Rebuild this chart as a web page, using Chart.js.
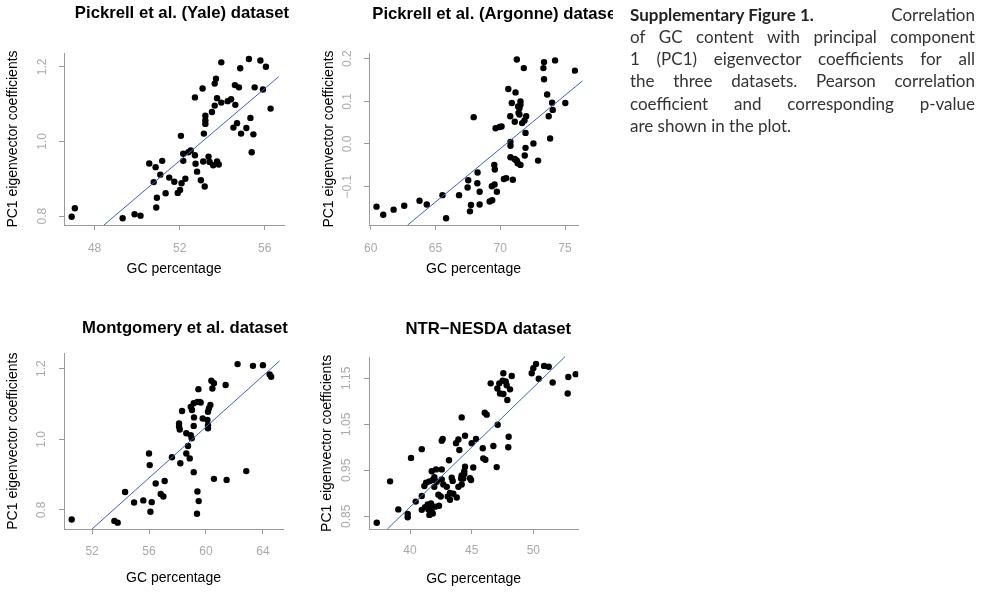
<!DOCTYPE html>
<html>
<head>
<meta charset="utf-8">
<script src="https://cdn.jsdelivr.net/npm/chart.js@4.4.0/dist/chart.umd.min.js"></script>
<style>
  body { margin: 0; background: #fff; width: 981px; height: 592px; position: relative; overflow: hidden; }
  canvas { position: absolute; }
  #caption { position: absolute; left: 613px; top: 0; width: 362px; height: 145px; background: #fff;
             padding: 3.9px 0 0 17px; box-sizing: border-box; font-family: Lato, sans-serif; font-size: 17px; color: #333; }
  #caption .ln { display: flex; justify-content: space-between; white-space: nowrap; line-height: 22.2px; height: 22.2px; }
  #caption .last { display: block; }
</style>
</head>
<body>
<canvas id="yale"></canvas>
<canvas id="argonne"></canvas>
<canvas id="montgomery"></canvas>
<canvas id="ntr"></canvas>
<div id="caption"></div>
<script>
// Pickrell et al. (Yale) : [GC %, PC1 coefficient]
const yalePoints = [[46.92,0.798],[47.07,0.821],[49.32,0.794],[49.88,0.805],[50.16,0.801],[50.57,0.941],[50.87,0.931],[50.78,0.891],[50.93,0.849],[50.90,0.823],[51.09,0.911],[51.18,0.948],[51.34,0.861],[51.51,0.903],[51.75,0.892],[51.91,0.862],[52.02,0.870],[52.09,0.888],[52.06,1.015],[52.17,0.967],[52.17,0.948],[52.27,0.900],[52.41,0.971],[52.52,0.976],[52.72,0.963],[52.75,0.940],[52.82,0.919],[52.72,1.118],[53.00,0.896],[53.08,1.142],[53.11,0.946],[53.18,0.879],[53.14,1.021],[53.21,1.069],[53.21,1.056],[53.21,1.047],[53.36,0.959],[53.41,0.945],[53.52,1.079],[53.58,0.936],[53.65,1.096],[53.65,1.155],[53.71,1.168],[53.76,1.116],[53.76,0.946],[53.84,0.938],[53.96,1.212],[53.96,1.104],[54.26,1.108],[54.42,1.113],[54.60,1.151],[54.62,1.098],[54.53,1.037],[54.70,1.049],[54.79,1.145],[54.85,1.196],[54.89,1.021],[55.14,1.036],[55.26,1.221],[55.33,1.063],[55.39,0.971],[55.47,1.019],[55.53,1.145],[55.80,1.217],[55.92,1.139],[56.06,1.200],[56.28,1.088]];
const yaleFit = [[48.44,0.776],[56.67,1.174]];
const yaleXTicks = [48, 52, 56];
const yaleXLabels = ['48', '52', '56'];
const yaleYTicks = [0.8, 1.0, 1.2];
const yaleYLabels = ['0.8', '1.0', '1.2'];
const yaleXRange = [46.56, 56.91];
const yaleYRange = [0.776, 1.237];

// Pickrell et al. (Argonne)
const argonnePoints = [[60.45,-0.147],[60.97,-0.166],[61.77,-0.154],[62.59,-0.145],[63.77,-0.133],[64.33,-0.142],[65.54,-0.120],[65.82,-0.174],[66.82,-0.120],[67.53,-0.085],[67.48,-0.102],[67.74,-0.143],[67.66,-0.158],[67.95,0.063],[68.25,-0.067],[68.23,-0.092],[68.41,-0.112],[68.41,-0.142],[69.18,-0.135],[69.38,-0.132],[69.35,-0.099],[69.56,-0.095],[69.74,-0.112],[69.54,-0.049],[69.58,-0.060],[69.64,0.037],[69.95,0.040],[70.10,0.041],[70.28,-0.082],[70.46,-0.080],[70.97,-0.084],[70.79,0.005],[70.79,-0.004],[70.79,-0.031],[71.10,-0.035],[71.28,-0.039],[70.62,0.129],[71.18,0.121],[70.89,0.096],[70.77,0.065],[71.12,0.052],[71.28,0.198],[71.38,0.088],[71.41,0.073],[71.82,0.178],[71.56,0.100],[71.56,0.092],[71.48,0.084],[71.48,0.069],[72.00,0.065],[71.69,0.049],[71.87,0.055],[71.95,0.026],[72.56,0.001],[71.95,-0.009],[71.89,-0.027],[71.18,-0.037],[71.35,-0.045],[71.56,-0.049],[72.92,-0.039],[73.38,0.192],[73.33,0.178],[74.23,0.196],[73.38,0.152],[73.62,0.116],[75.77,0.172],[74.00,0.097],[74.05,0.080],[73.74,0.065],[75.02,0.096],[73.85,0.013]];
const argonneFit = [[62.85,-0.190],[76.35,0.148]];
const argonneXTicks = [60, 65, 70, 75];
const argonneXLabels = ['60', '65', '70', '75'];
const argonneYTicks = [-0.1, 0.0, 0.1, 0.2];
const argonneYLabels = ['\u22120.1', '0.0', '0.1', '0.2'];
const argonneXRange = [59.87, 76.0];
const argonneYRange = [-0.190, 0.2134];

// Montgomery et al.
const montgomeryPoints = [[50.57,0.773],[53.57,0.769],[53.80,0.764],[54.32,0.851],[54.95,0.821],[55.60,0.827],[56.10,0.795],[56.19,0.822],[56.00,0.960],[56.05,0.927],[56.47,0.875],[56.82,0.845],[57.01,0.838],[57.10,0.882],[57.61,0.949],[58.20,0.932],[58.32,1.080],[58.11,1.045],[58.11,1.036],[58.16,1.028],[58.62,1.017],[58.62,0.960],[58.86,0.946],[58.74,0.981],[58.93,1.012],[59.00,1.003],[59.02,1.083],[59.16,1.062],[59.14,1.038],[59.14,0.907],[58.93,1.092],[59.14,1.102],[59.47,1.142],[59.40,1.106],[59.56,1.106],[59.63,1.104],[59.40,0.852],[59.49,0.825],[59.37,0.789],[59.77,1.059],[60.10,1.055],[60.14,1.040],[60.14,1.031],[60.14,1.078],[60.21,1.088],[60.31,1.097],[60.38,1.166],[60.56,1.159],[60.45,1.144],[61.38,1.154],[60.56,0.888],[61.45,0.885],[62.22,1.213],[63.30,1.208],[64.00,1.210],[64.47,1.184],[64.58,1.177],[62.83,0.910]];
const montgomeryFit = [[52.00,0.746],[65.17,1.222]];
const montgomeryXTicks = [52, 56, 60, 64];
const montgomeryXLabels = ['52', '56', '60', '64'];
const montgomeryYTicks = [0.8, 1.0, 1.2];
const montgomeryYLabels = ['0.8', '1.0', '1.2'];
const montgomeryXRange = [50.03, 65.41];
const montgomeryYRange = [0.746, 1.2436];

// NTR-NESDA
const ntrPoints = [[37.30,0.836],[38.38,0.926],[39.05,0.865],[39.81,0.855],[39.81,0.848],[40.08,0.977],[40.95,0.996],[40.46,0.882],[40.95,0.894],[41.16,0.916],[41.30,0.923],[41.57,0.926],[41.84,0.929],[40.95,0.864],[41.22,0.870],[41.44,0.876],[41.70,0.878],[41.62,0.870],[41.76,0.860],[41.84,0.856],[41.57,0.853],[41.49,0.865],[42.03,0.871],[42.35,0.873],[42.49,0.893],[42.30,0.897],[41.76,0.948],[42.11,0.952],[42.57,0.952],[41.97,0.935],[42.17,0.925],[41.97,0.914],[42.57,1.014],[42.65,1.018],[43.16,0.972],[42.57,0.930],[42.70,0.919],[42.98,0.914],[43.38,0.934],[43.46,0.927],[43.24,0.901],[43.92,1.017],[43.73,1.009],[44.00,0.994],[44.19,1.065],[44.46,1.025],[45.00,1.009],[45.35,1.018],[44.46,0.958],[44.40,0.948],[44.40,0.942],[44.19,0.939],[44.32,0.932],[44.95,0.929],[43.92,0.914],[44.19,0.919],[44.14,0.932],[43.24,0.886],[43.06,0.893],[43.79,0.891],[43.51,0.899],[45.13,0.956],[44.87,0.933],[45.94,0.976],[46.11,0.973],[45.90,0.998],[46.76,1.003],[47.03,0.957],[47.97,1.000],[48.00,1.023],[47.11,1.049],[46.06,1.075],[46.22,1.071],[46.54,1.139],[47.57,1.161],[48.25,1.155],[47.08,1.128],[47.30,1.117],[47.57,1.116],[47.24,1.139],[47.51,1.145],[47.76,1.143],[47.84,1.135],[48.11,1.126],[47.89,1.103],[49.87,1.161],[50.00,1.172],[50.22,1.181],[50.87,1.177],[51.25,1.175],[50.44,1.149],[51.57,1.141],[52.84,1.153],[53.44,1.159],[52.79,1.117]];
const ntrFit = [[38.16,0.8224],[52.57,1.197]];
const ntrXTicks = [40, 45, 50];
const ntrXLabels = ['40', '45', '50'];
const ntrYTicks = [0.85, 0.95, 1.05, 1.15];
const ntrYLabels = ['0.85', '0.95', '1.05', '1.15'];
const ntrXRange = [36.67, 53.65];
const ntrYRange = [0.8224, 1.1948];

const captionLines = [
    'of GC content with principal component',
    '1 (PC1) eigenvector coefficients for all',
    'the three datasets. Pearson correlation',
    'coefficient and corresponding p-value'
];

const FONT = "'Liberation Sans', Arial, Helvetica, sans-serif";
const TICK_COLOR = '#a9a9a9';
const AXIS_COLOR = '#9a9a9a';

// measure a tick label so the rotated y labels sit where R puts them
const measureCtx = document.createElement('canvas').getContext('2d');
function textWidth(s, size) {
    measureCtx.font = size + 'px ' + FONT;
    return measureCtx.measureText(s).width;
}

// R puts main titles a little right of the plot centre, so draw them at a set x
const panelTitle = {
    id: 'panelTitle',
    afterDraw(chart, args, opts) {
        const ctx = chart.ctx;
        ctx.save();
        ctx.font = 'bold 16.7px ' + FONT;
        ctx.fillStyle = '#000';
        ctx.textAlign = 'center';
        ctx.textBaseline = 'middle';
        ctx.fillText(opts.text, opts.x, opts.y);
        ctx.restore();
    }
};

function makePanel(id, box, title, points, fit, xTicks, xLabels, yTicks, yLabels, xRange, yRange) {
    const canvas = document.getElementById(id);
    canvas.width = box.w;
    canvas.height = box.h;
    canvas.style.left = box.left + 'px';
    canvas.style.top = box.top + 'px';

    const widest = Math.max(...yLabels.map(l => textWidth(l, 12)));

    new Chart(canvas, {
        type: 'scatter',
        data: {
            datasets: [
                {
                    data: points.map(p => ({ x: p[0], y: p[1] })),
                    pointRadius: 3.2,
                    pointBackgroundColor: '#000',
                    pointBorderWidth: 0,
                    order: 1
                },
                {
                    data: fit.map(p => ({ x: p[0], y: p[1] })),
                    showLine: true,
                    borderColor: '#3f5fbe',
                    borderWidth: 1,
                    pointRadius: 0,
                    clip: false,
                    order: 0
                }
            ]
        },
        plugins: [panelTitle],
        options: {
            responsive: false,
            animation: false,
            events: [],
            layout: { padding: { left: 0, top: box.area.top, right: box.w - box.area.right, bottom: 0 }, autoPadding: false },
            plugins: {
                legend: { display: false },
                tooltip: { enabled: false },
                title: { display: false },
                panelTitle: { text: title, x: box.titleX, y: box.titleY }
            },
            scales: {
                x: {
                    type: 'linear',
                    min: xRange[0],
                    max: xRange[1],
                    afterBuildTicks: s => { s.ticks = xTicks.map(v => ({ value: v })); },
                    afterFit: s => { s.height = box.h - box.area.bottom; },
                    ticks: {
                        color: TICK_COLOR,
                        font: { family: FONT, size: 12 },
                        padding: box.xLabelY - box.area.bottom - 5 - 7.2,
                        maxRotation: 0,
                        autoSkip: false,
                        callback: (v, i) => xLabels[i]
                    },
                    grid: { drawOnChartArea: false, drawTicks: true, tickLength: 5, color: AXIS_COLOR },
                    border: { display: true, color: AXIS_COLOR, width: 1 },
                    title: {
                        display: true,
                        text: 'GC percentage',
                        color: '#000',
                        font: { family: FONT, size: 14, lineHeight: 1.2 },
                        padding: { top: 0, bottom: box.h - box.xTitleY - 8.4 }
                    }
                },
                y: {
                    type: 'linear',
                    min: yRange[0],
                    max: yRange[1],
                    afterBuildTicks: s => { s.ticks = yTicks.map(v => ({ value: v })); },
                    afterFit: s => { s.width = box.area.left; },
                    ticks: {
                        color: TICK_COLOR,
                        font: { family: FONT, size: 12 },
                        minRotation: 90,
                        maxRotation: 90,
                        crossAlign: 'center',
                        padding: box.yLabelDist - 5 - widest / 2,
                        autoSkip: false,
                        callback: (v, i) => yLabels[i]
                    },
                    grid: { drawOnChartArea: false, drawTicks: true, tickLength: 5, color: AXIS_COLOR },
                    border: { display: true, color: AXIS_COLOR, width: 1 },
                    title: {
                        display: true,
                        text: 'PC1 eigenvector coefficients',
                        color: '#000',
                        font: { family: FONT, size: 14, lineHeight: 1.2 },
                        padding: { top: box.yTitleX - 8.4, bottom: 0 }
                    }
                }
            }
        }
    });
}

makePanel('yale',
    { left: 0, top: 0, w: 300, h: 296, area: { left: 64, top: 53, right: 284, bottom: 225 },
      titleX: 182, titleY: 13.7, yTitleX: 13.3, xLabelY: 248.3, xTitleY: 269.3, yLabelDist: 21 },
    'Pickrell et al. (Yale) dataset', yalePoints, yaleFit,
    yaleXTicks, yaleXLabels, yaleYTicks, yaleYLabels, yaleXRange, yaleYRange);

makePanel('argonne',
    { left: 300, top: 0, w: 330, h: 296, area: { left: 69, top: 53, right: 278, bottom: 225 },
      titleX: 197, titleY: 14, yTitleX: 29.3, xLabelY: 248.3, xTitleY: 269.3, yLabelDist: 21 },
    'Pickrell et al. (Argonne) dataset', argonnePoints, argonneFit,
    argonneXTicks, argonneXLabels, argonneYTicks, argonneYLabels, argonneXRange, argonneYRange);

makePanel('montgomery',
    { left: 0, top: 296, w: 300, h: 296, area: { left: 64, top: 57.3, right: 283, bottom: 233 },
      titleX: 185, titleY: 32.3, yTitleX: 13.3, xLabelY: 255.7, xTitleY: 282.3, yLabelDist: 22 },
    'Montgomery et al. dataset', montgomeryPoints, montgomeryFit,
    montgomeryXTicks, montgomeryXLabels, montgomeryYTicks, montgomeryYLabels, montgomeryXRange, montgomeryYRange);

makePanel('ntr',
    { left: 300, top: 296, w: 300, h: 296, area: { left: 69, top: 61.7, right: 278.3, bottom: 233 },
      titleX: 188.3, titleY: 33, yTitleX: 27.3, xLabelY: 254.7, xTitleY: 283.3, yLabelDist: 22.3 },
    'NTR\u2212NESDA dataset', ntrPoints, ntrFit,
    ntrXTicks, ntrXLabels, ntrYTicks, ntrYLabels, ntrXRange, ntrYRange);

// caption block, lines justified like the original figure legend
const caption = document.getElementById('caption');
let html = '<div class="ln"><b style="color:#222">Supplementary Figure 1.</b><span>Correlation</span></div>';
captionLines.forEach(line => {
    html += '<div class="ln">' + line.split(' ').map(w => '<span>' + w + '</span>').join('') + '</div>';
});
html += '<div class="ln last">are shown in the plot.</div>';
caption.innerHTML = html;
</script>
</body>
</html>
